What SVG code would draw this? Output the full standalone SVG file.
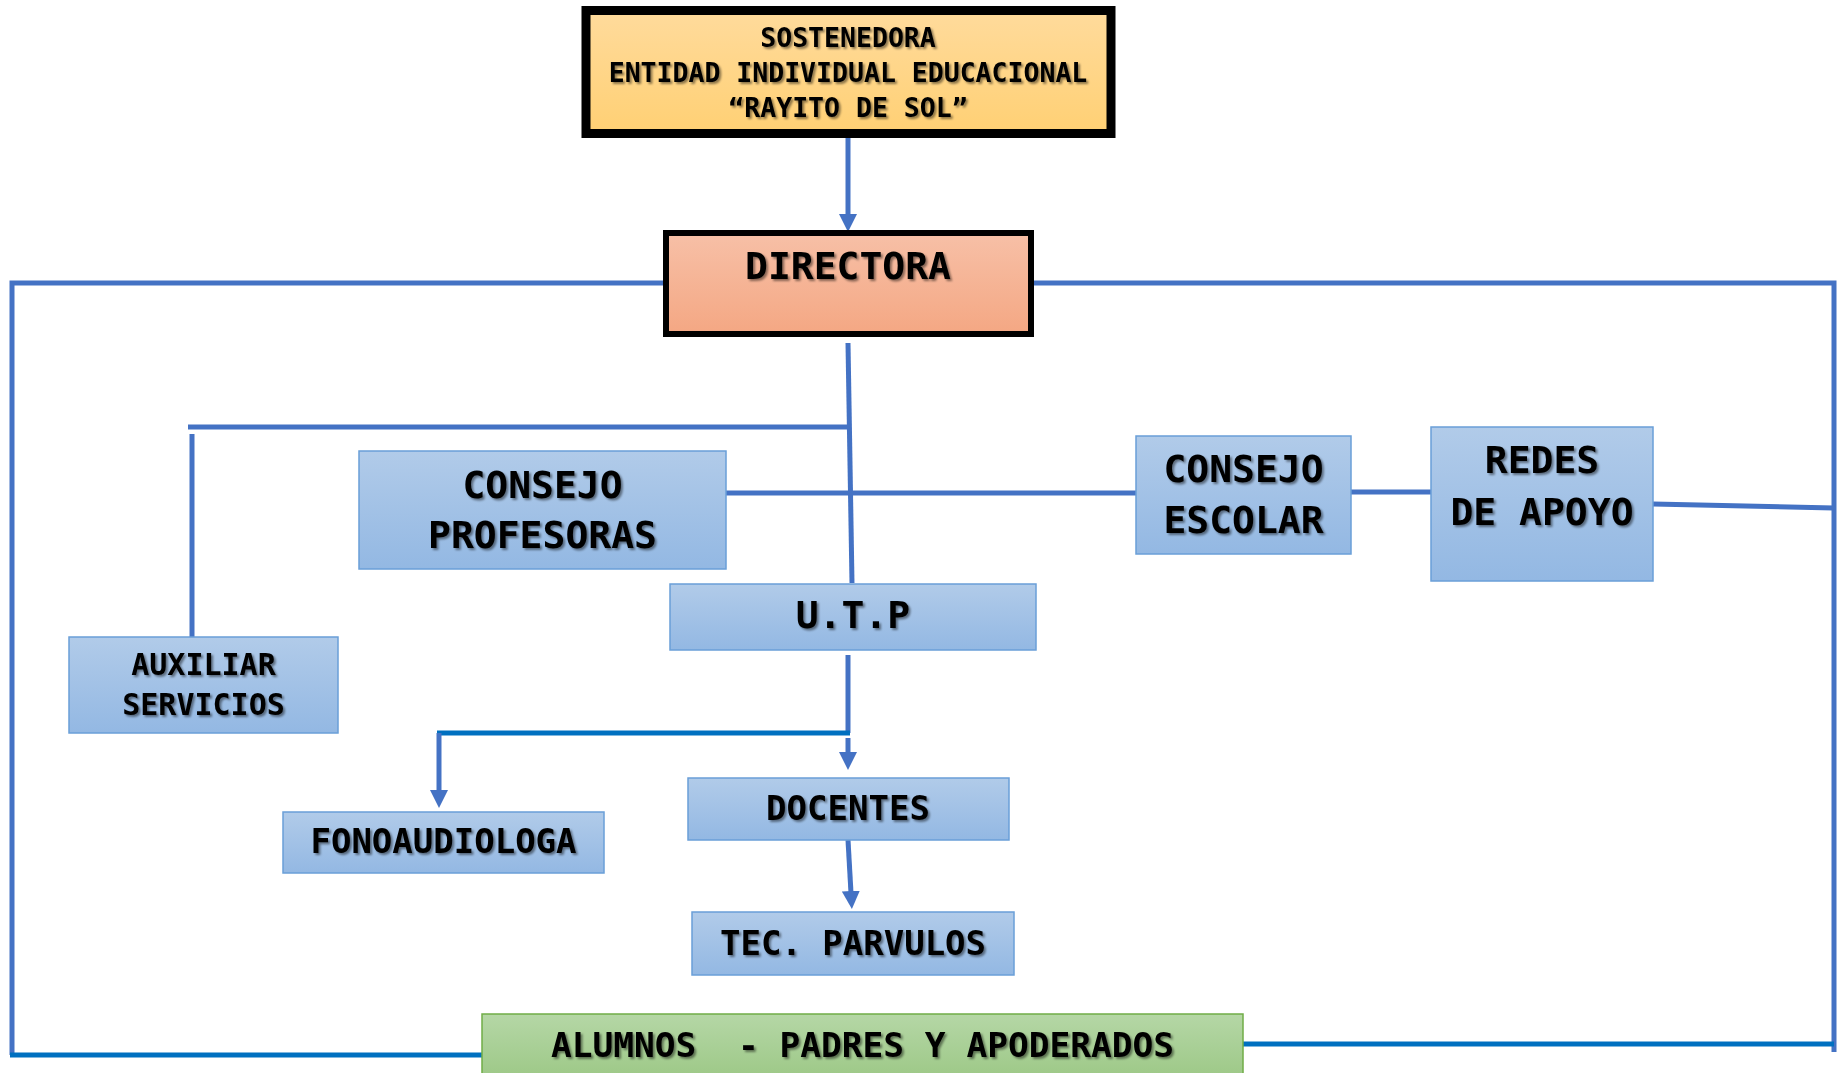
<svg xmlns="http://www.w3.org/2000/svg" width="1845" height="1073" viewBox="0 0 1845 1073">
<defs>
<linearGradient id="gBlue" x1="0" y1="0" x2="0" y2="1"><stop offset="0" stop-color="#B1CBE9"/><stop offset="1" stop-color="#93B8E3"/></linearGradient>
<linearGradient id="gGreen" x1="0" y1="0" x2="0" y2="1"><stop offset="0" stop-color="#B5D7A6"/><stop offset="1" stop-color="#9BC784"/></linearGradient>
<linearGradient id="gGold" x1="0" y1="0" x2="0" y2="1"><stop offset="0" stop-color="#FFDB9C"/><stop offset="1" stop-color="#FFD074"/></linearGradient>
<linearGradient id="gSalmon" x1="0" y1="0" x2="0" y2="1"><stop offset="0" stop-color="#F7C0A7"/><stop offset="1" stop-color="#F4A783"/></linearGradient>
<filter id="shadow" x="-10%" y="-30%" width="120%" height="160%"><feDropShadow dx="2" dy="2" stdDeviation="1.2" flood-color="#000" flood-opacity="0.45"/></filter>
<marker id="arrow" markerUnits="userSpaceOnUse" markerWidth="18" markerHeight="18" refX="2" refY="9" orient="auto"><path d="M0,0 L18,9 L0,18 z" fill="#4472C4"/></marker>
</defs>
<style>
.box{fill:url(#gBlue);stroke:#6A9FD8;stroke-width:1.5}
.t{font-family:"DejaVu Sans Mono","Liberation Mono",monospace;font-weight:bold;fill:#000;text-anchor:middle;filter:url(#shadow)}
.c{fill:none;stroke:#4472C4;stroke-width:5}
.c2{fill:none;stroke:#0070C0;stroke-width:5}
</style>
<g id="connectors">
<path class="c" d="M848 138 V216" marker-end="url(#arrow)"/>
<path class="c" d="M666 283 H12 V1055"/>
<path class="c2" d="M10 1055 H482"/>
<path class="c" d="M1031 283 H1834 V1052"/>
<path class="c2" d="M1243 1044 H1834"/>
<path class="c" d="M848 343 L852 583"/>
<path class="c" d="M850 427 H188"/>
<path class="c" d="M192 434 V637"/>
<path class="c" d="M726 493 H1136"/>
<path class="c" d="M1351 492 H1431"/>
<path class="c" d="M1653 504 L1834 508"/>
<path class="c" d="M848 655 V733"/>
<path class="c2" d="M437 733 H850"/>
<path class="c" d="M439 733 V792" marker-end="url(#arrow)"/>
<path class="c" d="M848 738 V754" marker-end="url(#arrow)"/>
<path class="c" d="M848 840 L851 893" marker-end="url(#arrow)"/>
</g>
<g id="sostenedora">
<rect x="586" y="10.5" width="525" height="123" fill="url(#gGold)" stroke="#000" stroke-width="9"/>
<text class="t" font-size="26.5" x="848" y="47">SOSTENEDORA</text>
<text class="t" font-size="26.5" x="848" y="82">ENTIDAD INDIVIDUAL EDUCACIONAL</text>
<text class="t" font-size="26.5" x="848" y="117">“RAYITO DE SOL”</text>
</g>
<g id="directora">
<rect x="666" y="233" width="365" height="101" fill="url(#gSalmon)" stroke="#000" stroke-width="6"/>
<text class="t" font-size="38" x="848" y="279">DIRECTORA</text>
</g>
<g id="consejo-profesoras">
<rect class="box" x="359" y="451" width="367" height="118"/>
<text class="t" font-size="38" x="542.5" y="498">CONSEJO</text>
<text class="t" font-size="38" x="542.5" y="548">PROFESORAS</text>
</g>
<g id="auxiliar-servicios">
<rect class="box" x="69" y="637" width="269" height="96"/>
<text class="t" font-size="30" x="203.5" y="675">AUXILIAR</text>
<text class="t" font-size="30" x="203.5" y="715">SERVICIOS</text>
</g>
<g id="consejo-escolar">
<rect class="box" x="1136" y="436" width="215" height="118"/>
<text class="t" font-size="38" x="1243.5" y="482">CONSEJO</text>
<text class="t" font-size="38" x="1243.5" y="533">ESCOLAR</text>
</g>
<g id="redes-apoyo">
<rect class="box" x="1431" y="427" width="222" height="154"/>
<text class="t" font-size="38" x="1542" y="473">REDES</text>
<text class="t" font-size="38" x="1542" y="525">DE APOYO</text>
</g>
<g id="utp">
<rect class="box" x="670" y="584" width="366" height="66"/>
<text class="t" font-size="38" x="853" y="628">U.T.P</text>
</g>
<g id="fonoaudiologa">
<rect class="box" x="283" y="812" width="321" height="61"/>
<text class="t" font-size="34" x="443.5" y="853">FONOAUDIOLOGA</text>
</g>
<g id="docentes">
<rect class="box" x="688" y="778" width="321" height="62"/>
<text class="t" font-size="34" x="848" y="820">DOCENTES</text>
</g>
<g id="tec-parvulos">
<rect class="box" x="692" y="912" width="322" height="63"/>
<text class="t" font-size="34" x="853" y="955">TEC. PARVULOS</text>
</g>
<g id="alumnos">
<rect x="482" y="1014" width="761" height="70" fill="url(#gGreen)" stroke="#70AD47" stroke-width="1.5"/>
<text class="t" font-size="34.5" x="551" y="1057" style="text-anchor:start;white-space:pre">ALUMNOS  - PADRES Y APODERADOS</text>
</g>
</svg>
